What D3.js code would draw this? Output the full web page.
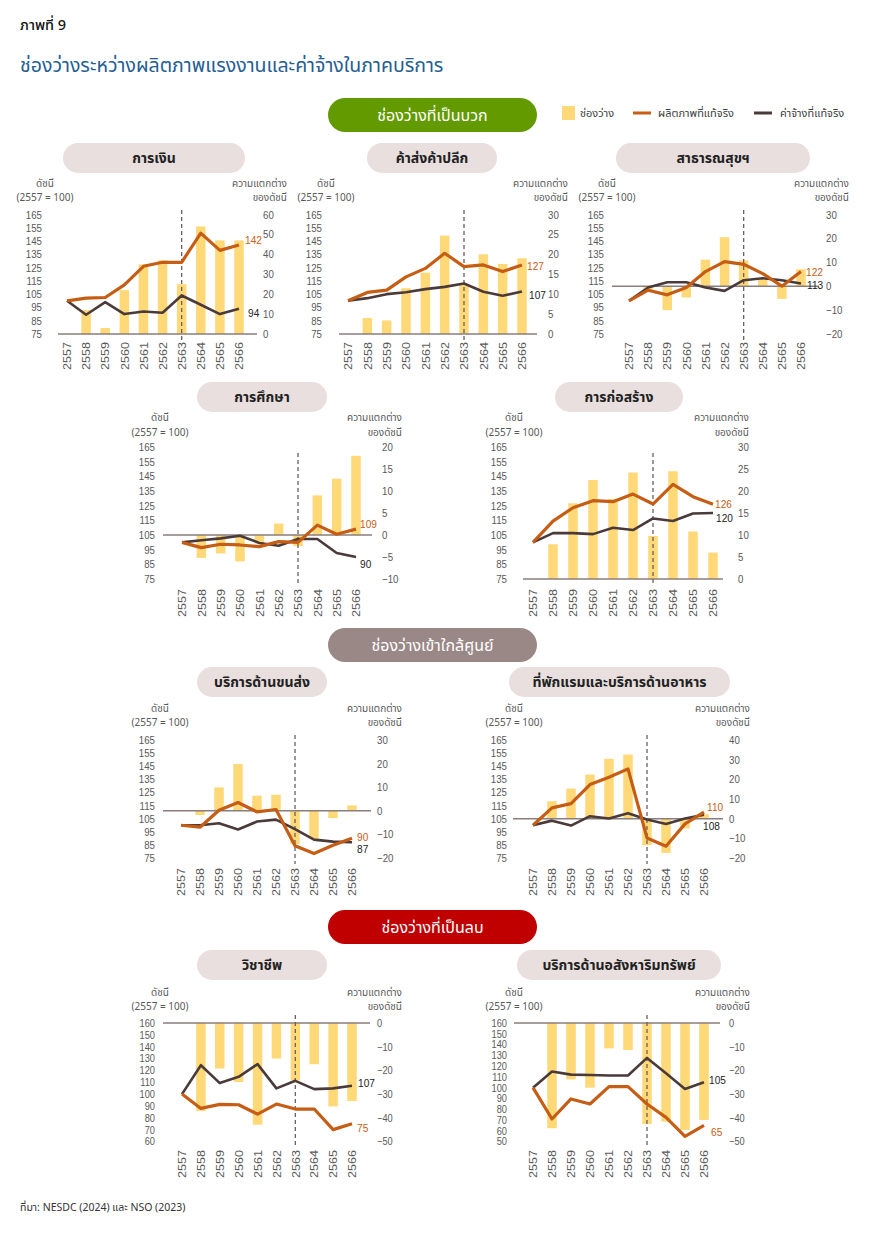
<!DOCTYPE html>
<html><head><meta charset="utf-8">
<script src="https://cdn.jsdelivr.net/npm/d3@7"></script>
<style>
body{margin:0;background:#fff;}
svg{display:block;}
</style></head>
<body>
<script>
// ---------- DATA ----------
const years = ['2557','2558','2559','2560','2561','2562','2563','2564','2565','2566'];
const panelTitles = ['การเงิน','ค้าส่งค้าปลีก','สาธารณสุขฯ','การศึกษา','การก่อสร้าง','บริการด้านขนส่ง','ที่พักแรมและบริการด้านอาหาร','วิชาชีพ','บริการด้านอสังหาริมทรัพย์'];
const sectionTitles = ['ช่องว่างที่เป็นบวก','ช่องว่างเข้าใกล้ศูนย์','ช่องว่างที่เป็นลบ'];
const legendLabels = ['ช่องว่าง','ผลิตภาพที่แท้จริง','ค่าจ้างที่แท้จริง'];

// real productivity index (2557 = 100)
const prodFinance   = [100,102,102.5,112,126,129,129,151,138,142];
const prodTrade     = [100,106.3,108,118,124.4,135.8,125.7,127,122,127];
const prodHealth    = [100,108,104.5,110,122,129.5,127.5,120.5,111,122];
const prodEducation = [100,96.4,98.7,98.2,97.1,100.5,100,111.7,105.5,109];
const prodConstr    = [100,114.5,123.6,128.4,127.7,132.9,126.1,139.5,131.1,126];
const prodTransport = [100,98.5,111.4,117.3,110.2,112,84.3,78.4,84.7,90];
const prodHotel     = [100,113.2,116.5,131,136.6,143,90.3,84,101,110];
const prodProf      = [100,87.9,91.3,91,83.1,91.6,87.4,87.4,70,75];
const prodRealEst   = [100,70.9,89.5,84.8,100.9,100.9,84.8,72.4,54.8,65];

// real wage index (2557 = 100)
const wageFinance   = [100,89.5,99,90,92,91,104,97,90,94];
const wageTrade     = [100,102,105,106.5,108.8,110.5,113,106.8,103.8,107];
const wageHealth    = [100,110,114,114,110,107.5,115.5,117,115.5,113];
const wageEducation = [100,101.4,102.7,104.5,99.6,97.7,102.3,102.3,92.7,90];
const wageConstr    = [100,106.3,106.3,105.6,110,108.4,116.3,114.5,119.7,120];
const wageTransport = [100,100,101.5,96.7,102.8,104.3,97,89,87.5,87];
const wageHotel     = [100,103.5,99.7,106.9,105.1,109.2,104.3,101,105.1,108];
const wageProf      = [100,124.4,109.3,114.6,125.3,104.8,111.2,104.2,104.8,107];
const wageRealEst   = [100,114.9,112.1,111.8,111.2,111.2,127.6,113.3,98.8,105];

// gap (difference of index, right axis)
const gapFinance   = [0,12,3,22,35,37,25,54,47,47];
const gapTrade     = [0,4,3.4,11.5,15.4,24.7,12.3,20,17.6,19];
const gapHealth    = [0,-1.5,-10,-4.7,11.1,20.5,10.8,2.8,-5.3,7.1];
const gapEducation = [0,-5.2,-4.2,-6,-1.9,2.6,-2.5,9,12.8,18];
const gapConstr    = [0,7.9,17.2,22.5,18.2,24.2,9.8,24.5,10.8,6];
const gapTransport = [0,-1.8,9.9,19.8,6.4,6.8,-14.1,-11.9,-3.1,2.3];
const gapHotel     = [0,8.9,15.3,22.4,30.4,32.6,-13.5,-17.4,-5,2.3];
const gapProf      = [0,-37.1,-19.2,-24.9,-42.9,-15,-24.2,-17.4,-35.2,-32.9];
const gapRealEst   = [0,-44.4,-23.8,-27.3,-10.7,-11.4,-42.6,-41.6,-45.1,-40.9];

// tick labels
const leftTicksA  = [75,85,95,105,115,125,135,145,155,165];
const leftTicksB  = [60,70,80,90,100,110,120,130,140,150,160];
const leftTicksC  = [50,60,70,80,90,100,110,120,130,140,150,160];
const rightTicks1 = [0,10,20,30,40,50,60];
const rightTicks2 = [0,5,10,15,20,25,30];
const rightTicks3 = [-20,-10,0,10,20,30];
const rightTicks4 = [-10,-5,0,5,10,15,20];
const rightTicks7 = [-20,-10,0,10,20,30,40];
const rightTicksNeg = [-50,-40,-30,-20,-10,0];

const prodSeries = [prodFinance,prodTrade,prodHealth,prodEducation,prodConstr,prodTransport,prodHotel,prodProf,prodRealEst];
const wageSeries = [wageFinance,wageTrade,wageHealth,wageEducation,wageConstr,wageTransport,wageHotel,wageProf,wageRealEst];
const gapSeries  = [gapFinance,gapTrade,gapHealth,gapEducation,gapConstr,gapTransport,gapHotel,gapProf,gapRealEst];
const leftTickSets  = [leftTicksA,leftTicksA,leftTicksA,leftTicksA,leftTicksA,leftTicksA,leftTicksA,leftTicksB,leftTicksC];
const rightTickSets = [rightTicks1,rightTicks2,rightTicks3,rightTicks4,rightTicks2,rightTicks3,rightTicks7,rightTicksNeg,rightTicksNeg];

// ---------- LAYOUT ----------
const rows = [
  {pillY:143, head1:183, head2:197, yTop:214.5, yBot:334, dashTop:210, dashBot:342, xlab:342, tf:11},
  {pillY:382, head1:417, head2:432, yTop:447, yBot:579, dashTop:453, dashBot:586, xlab:589, tf:11},
  {pillY:667, head1:708, head2:722, yTop:740, yBot:858, dashTop:735, dashBot:864, xlab:868, tf:11},
  {pillY:950, head1:992, head2:1006, yTop:1023, yBot:1141.5, dashTop:1015, dashBot:1148, xlab:1150, tf:10.5}
];
const layout = [
  {row:0,x0:67, x1:239,baseL:58, baseR:257,tickL:42, tickR:263,headL:45, headR:287,pill:[63,245], pl:[6,-5], wl:[9,4]},
  {row:0,x0:348,x1:522,baseL:339,baseR:537,tickL:322,tickR:548,headL:326,headR:568,pill:[367,497],pl:[5,1], wl:[7,3]},
  {row:0,x0:629,x1:801,baseL:612,baseR:819,tickL:604,tickR:826,headL:607,headR:849,pill:[616,810],pl:[5,0], wl:[6,1]},
  {row:1,x0:182,x1:356,baseL:163,baseR:372,tickL:155,tickR:382,headL:160,headR:402,pill:[197,327],pl:[4,-5],wl:[4,7]},
  {row:1,x0:533,x1:713,baseL:523,baseR:723,tickL:507,tickR:738,headL:514,headR:749,pill:[555,683],pl:[2,0], wl:[3,5]},
  {row:2,x0:181,x1:352,baseL:163,baseR:371,tickL:155,tickR:377,headL:160,headR:402,pill:[197,327],pl:[5,-1],wl:[5,7]},
  {row:2,x0:533,x1:704,baseL:513,baseR:723,tickL:507,tickR:729,headL:514,headR:750,pill:[509,730],pl:[3,-5],wl:[-1,11]},
  {row:3,x0:182,x1:352,baseL:163,baseR:370,tickL:155,tickR:377,headL:160,headR:402,pill:[197,327],pl:[5,4], wl:[6,-3]},
  {row:3,x0:533,x1:704,baseL:514,baseR:720,tickL:507,tickR:729,headL:514,headR:750,pill:[517,721],pl:[7,7], wl:[5,-2]}
];

const C = {bar:'#FFD978', prod:'#C65D15', wage:'#4B3A3A', base:'#8A7D7D', dash:'#6E5E5E',
           pill:'#E8DFDE', tick:'#595959', green:'#639A00', mauve:'#9A8887', red:'#C00000', blue:'#245E92'};
const THAI = "'Noto Sans Thai','Noto Sans','DejaVu Sans',sans-serif";
const NUM = "'Liberation Sans',Arial,sans-serif";
const SQ = 'scale(0.88,1)';

const svg = d3.select('body').append('svg').attr('width',870).attr('height',1237);

// headings
svg.append('text').attr('x',20).attr('y',30).text('ภาพที่ 9')
  .attr('font-family',THAI).attr('font-size',14.5).attr('font-weight',500).attr('fill','#111');
svg.append('text').attr('x',20).attr('y',72).text('ช่องว่างระหว่างผลิตภาพแรงงานและค่าจ้างในภาคบริการ')
  .attr('font-family',THAI).attr('font-size',19.5).attr('fill',C.blue);

// section pills
const sectionY = [98,628,910];
const sectionFill = [C.green,C.mauve,C.red];
sectionTitles.forEach((t,i)=>{
  svg.append('rect').attr('x',328).attr('y',sectionY[i]).attr('width',209).attr('height',34)
    .attr('rx',17).attr('fill',sectionFill[i]);
  svg.append('text').attr('x',432.5).attr('y',sectionY[i]+17).attr('dy','0.35em')
    .attr('text-anchor','middle').text(t).attr('font-family',THAI).attr('font-size',16).attr('fill','#fff');
});

// legend
const lg = svg.append('g').attr('font-family',THAI).attr('font-size',11).attr('fill','#404040');
lg.append('rect').attr('x',562).attr('y',106).attr('width',13).attr('height',14).attr('fill',C.bar);
lg.append('text').attr('x',580).attr('y',113).attr('dy','0.35em').text(legendLabels[0]);
lg.append('line').attr('x1',633).attr('x2',651).attr('y1',113).attr('y2',113).attr('stroke',C.prod).attr('stroke-width',3);
lg.append('text').attr('x',658).attr('y',113).attr('dy','0.35em').text(legendLabels[1]);
lg.append('line').attr('x1',754).attr('x2',772).attr('y1',113).attr('y2',113).attr('stroke',C.wage).attr('stroke-width',3);
lg.append('text').attr('x',780).attr('y',113).attr('dy','0.35em').text(legendLabels[2]);

// panels
layout.forEach((L,i)=>{
  const R = rows[L.row];
  const g = svg.append('g');
  const lt = leftTickSets[i], rt = rightTickSets[i];
  const x = d3.scalePoint().domain(years).range([L.x0,L.x1]);
  const yL = d3.scaleLinear().domain([d3.min(lt),d3.max(lt)]).range([R.yBot,R.yTop]);
  const yR = d3.scaleLinear().domain([d3.min(rt),d3.max(rt)]).range([R.yBot,R.yTop]);

  // title pill
  g.append('rect').attr('x',L.pill[0]).attr('y',R.pillY).attr('width',L.pill[1]-L.pill[0]).attr('height',30)
    .attr('rx',15).attr('fill',C.pill);
  g.append('text').attr('x',(L.pill[0]+L.pill[1])/2).attr('y',R.pillY+15).attr('dy','0.35em')
    .attr('text-anchor','middle').text(panelTitles[i]).attr('font-family',THAI).attr('font-size',14)
    .attr('font-weight','bold').attr('fill','#222');

  // axis headers
  const hd = g.append('g').attr('font-family',THAI).attr('font-size',10).attr('fill',C.tick);
  hd.append('text').attr('x',L.headL).attr('y',R.head1).attr('dy','0.35em').attr('text-anchor','middle').text('ดัชนี');
  hd.append('text').attr('x',L.headL).attr('y',R.head2).attr('dy','0.35em').attr('text-anchor','middle').text('(2557 = 100)');
  hd.append('text').attr('x',L.headR).attr('y',R.head1).attr('dy','0.35em').attr('text-anchor','end').text('ความแตกต่าง');
  hd.append('text').attr('x',L.headR).attr('y',R.head2).attr('dy','0.35em').attr('text-anchor','end').text('ของดัชนี');

  // bars
  g.append('g').selectAll('rect').data(gapSeries[i].map((v,k)=>({y:years[k],v})).filter(d=>d.v!==0))
    .join('rect')
    .attr('x',d=>x(d.y)-4.75).attr('width',9.5)
    .attr('y',d=>yR(Math.max(0,d.v)))
    .attr('height',d=>Math.abs(yR(d.v)-yR(0)))
    .attr('fill',C.bar);

  // zero baseline
  g.append('line').attr('x1',L.baseL).attr('x2',L.baseR).attr('y1',yR(0)).attr('y2',yR(0))
    .attr('stroke',C.base).attr('stroke-width',1.5);

  // dashed divider at 2563
  g.append('line').attr('x1',x('2563')).attr('x2',x('2563')).attr('y1',R.dashTop).attr('y2',R.dashBot)
    .attr('stroke',C.dash).attr('stroke-width',1.3).attr('stroke-dasharray','4,3');

  // axes
  const ax = g.append('g').attr('transform',`translate(${L.tickL},0)`)
    .call(d3.axisLeft(yL).tickValues(lt).tickSize(0).tickPadding(0).tickFormat(d3.format('d')));
  const axr = g.append('g').attr('transform',`translate(${L.tickR},0)`)
    .call(d3.axisRight(yR).tickValues(rt).tickSize(0).tickPadding(0).tickFormat(d3.format('d')));
  const axb = g.append('g').attr('transform',`translate(0,${R.xlab})`)
    .call(d3.axisBottom(x).tickSize(0));
  [ax,axr].forEach(a=>{
    a.select('.domain').remove();
    a.selectAll('text').attr('x',0).attr('font-family',NUM).attr('font-size',R.tf)
      .attr('transform',SQ).attr('fill',C.tick);
  });
  axb.select('.domain').remove();
  axb.selectAll('text').attr('y',0).attr('x',0).attr('dy','0.35em')
    .attr('transform','rotate(-90) scale(1.2,1)').attr('text-anchor','end')
    .attr('font-family',NUM).attr('font-size',10.5).attr('fill',C.tick);

  // lines
  const line = d3.line().x((d,k)=>x(years[k])).y(d=>yL(d));
  g.append('path').datum(wageSeries[i]).attr('d',line).attr('fill','none')
    .attr('stroke',C.wage).attr('stroke-width',2.6).attr('stroke-linejoin','round');
  g.append('path').datum(prodSeries[i]).attr('d',line).attr('fill','none')
    .attr('stroke',C.prod).attr('stroke-width',3.2).attr('stroke-linejoin','round');

  // end labels
  const lastP = prodSeries[i][9], lastW = wageSeries[i][9];
  g.append('g').attr('transform',`translate(${L.x1+L.pl[0]},${yL(lastP)+L.pl[1]}) ${SQ}`)
    .append('text').attr('dy','0.35em')
    .text(Math.round(lastP)).attr('font-family',NUM).attr('font-size',11.5).attr('fill',C.prod);
  g.append('g').attr('transform',`translate(${L.x1+L.wl[0]},${yL(lastW)+L.wl[1]}) ${SQ}`)
    .append('text').attr('dy','0.35em')
    .text(Math.round(lastW)).attr('font-family',NUM).attr('font-size',11.5).attr('fill','#222');
});

// source
svg.append('text').attr('x',20).attr('y',1207).attr('dy','0.35em')
  .text('ที่มา: NESDC (2024) และ NSO (2023)').attr('font-family',THAI).attr('font-size',10.5).attr('fill','#333');
</script>
</body></html>
